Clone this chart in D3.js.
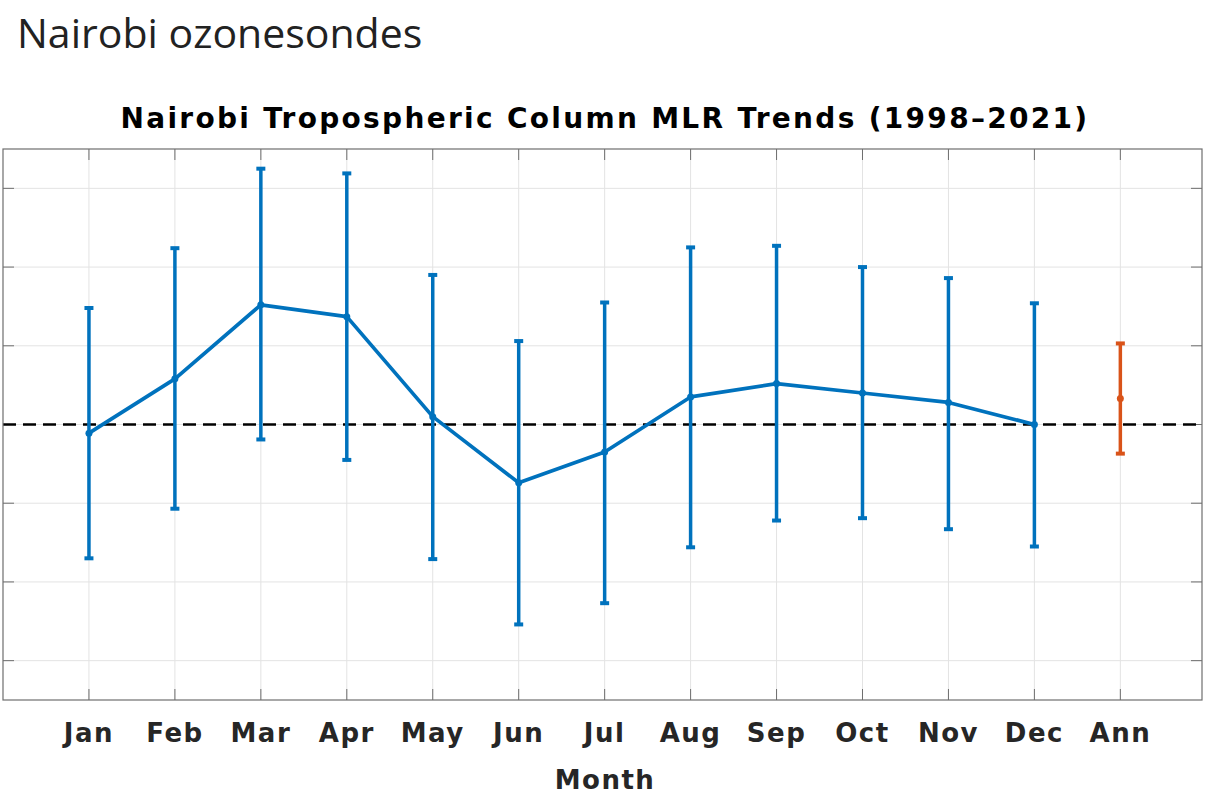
<!DOCTYPE html>
<html>
<head>
<meta charset="utf-8">
<script src="https://cdn.jsdelivr.net/npm/d3@7"></script>
<style>
  body { margin: 0; background: #fff; }
  text { font-family: "DejaVu Sans", sans-serif; }
</style>
</head>
<body>
<div id="chart"></div>
<script>
// Monthly trend values and confidence bounds
const months = ["Jan", "Feb", "Mar", "Apr", "May", "Jun", "Jul", "Aug", "Sep", "Oct", "Nov", "Dec"];
const trend = [-0.11, 0.58, 1.52, 1.37, 0.10, -0.74, -0.35, 0.35, 0.52, 0.40, 0.28, 0.00];
const upper = [1.48, 2.24, 3.25, 3.19, 1.90, 1.06, 1.55, 2.25, 2.27, 2.00, 1.86, 1.54];
const lower = [-1.70, -1.07, -0.19, -0.45, -1.71, -2.54, -2.27, -1.56, -1.22, -1.19, -1.33, -1.55];
const annLabel = "Ann";
const annTrend = 0.33;
const annUpper = 1.03;
const annLower = -0.37;
const yTicks = [-3, -2, -1, 0, 1, 2, 3];

const W = 1217, H = 808;
const box = { left: 3, right: 1202, top: 149, bottom: 700 };
const blue = "#0072BD", orange = "#D95319";

const svg = d3.select("#chart").append("svg")
    .attr("width", W)
    .attr("height", H);

// Page heading
svg.append("text")
    .attr("x", 17)
    .attr("y", 48)
    .style("font-family", "'Open Sans', sans-serif")
    .style("font-size", "41px")
    .attr("fill", "#222")
    .text("Nairobi ozonesondes");

const x = d3.scaleLinear().domain([0, 13.95]).range([box.left, box.right]);
const y = d3.scaleLinear().domain([-3.5, 3.5]).range([box.bottom, box.top]);

const labels = months.concat([annLabel]);
const xIdx = labels.map((d, i) => i + 1);

// Grid
const grid = svg.append("g");
grid.selectAll(".gx").data(xIdx).enter().append("line")
    .attr("x1", d => x(d)).attr("x2", d => x(d))
    .attr("y1", box.top).attr("y2", box.bottom)
    .attr("stroke", "#e3e3e3").attr("stroke-width", 1);
grid.selectAll(".gy").data(yTicks).enter().append("line")
    .attr("x1", box.left).attr("x2", box.right)
    .attr("y1", d => y(d)).attr("y2", d => y(d))
    .attr("stroke", "#e3e3e3").attr("stroke-width", 1);

// Ticks (inward, both sides)
const tickLen = 11;
const ticks = svg.append("g").attr("stroke", "#6e6e6e").attr("stroke-width", 1);
xIdx.forEach(d => {
    ticks.append("line").attr("x1", x(d)).attr("x2", x(d)).attr("y1", box.bottom).attr("y2", box.bottom - tickLen);
    ticks.append("line").attr("x1", x(d)).attr("x2", x(d)).attr("y1", box.top).attr("y2", box.top + tickLen);
});
yTicks.forEach(d => {
    ticks.append("line").attr("x1", box.left).attr("x2", box.left + tickLen).attr("y1", y(d)).attr("y2", y(d));
    ticks.append("line").attr("x1", box.right).attr("x2", box.right - tickLen).attr("y1", y(d)).attr("y2", y(d));
});

// Zero line
svg.append("line")
    .attr("x1", box.left).attr("x2", box.right)
    .attr("y1", y(0)).attr("y2", y(0))
    .attr("stroke", "#000").attr("stroke-width", 2.5)
    .attr("stroke-dasharray", "13,7");

// Error bars
function errorBar(g, xi, lo, hi, mid, color) {
    g.append("line")
        .attr("x1", x(xi)).attr("x2", x(xi))
        .attr("y1", y(lo)).attr("y2", y(hi))
        .attr("stroke", color).attr("stroke-width", 3.5);
    [lo, hi].forEach(v => {
        g.append("line")
            .attr("x1", x(xi) - 4.5).attr("x2", x(xi) + 4.5)
            .attr("y1", y(v)).attr("y2", y(v))
            .attr("stroke", color).attr("stroke-width", 4);
    });
    g.append("circle")
        .attr("cx", x(xi)).attr("cy", y(mid)).attr("r", 3.5)
        .attr("fill", color);
}

const bars = svg.append("g");
months.forEach((m, i) => errorBar(bars, i + 1, lower[i], upper[i], trend[i], blue));

// Trend line
svg.append("path")
    .datum(trend)
    .attr("fill", "none")
    .attr("stroke", blue)
    .attr("stroke-width", 3.7)
    .attr("stroke-linejoin", "round")
    .attr("d", d3.line().x((d, i) => x(i + 1)).y(d => y(d)));

// Annual
errorBar(svg.append("g"), 13, annLower, annUpper, annTrend, orange);

// Box
svg.append("rect")
    .attr("x", box.left).attr("y", box.top)
    .attr("width", box.right - box.left).attr("height", box.bottom - box.top)
    .attr("fill", "none").attr("stroke", "#6e6e6e").attr("stroke-width", 1.2);

// X labels
svg.append("g").selectAll("text").data(labels).enter().append("text")
    .attr("x", (d, i) => x(i + 1))
    .attr("y", 742)
    .attr("text-anchor", "middle")
    .style("font-size", "26px")
    .style("font-weight", "bold")
    .style("letter-spacing", "1.5px")
    .attr("fill", "#262626")
    .text(d => d);

svg.append("text")
    .attr("x", 605)
    .attr("y", 789)
    .attr("text-anchor", "middle")
    .style("font-size", "26px")
    .style("font-weight", "bold")
    .style("letter-spacing", "1.5px")
    .attr("fill", "#262626")
    .text("Month");

// Chart title
svg.append("text")
    .attr("x", 605)
    .attr("y", 128)
    .attr("text-anchor", "middle")
    .style("font-size", "28px")
    .style("font-weight", "bold")
    .style("letter-spacing", "2.3px")
    .attr("fill", "#000")
    .text("Nairobi Tropospheric Column MLR Trends (1998–2021)");
</script>
</body>
</html>
